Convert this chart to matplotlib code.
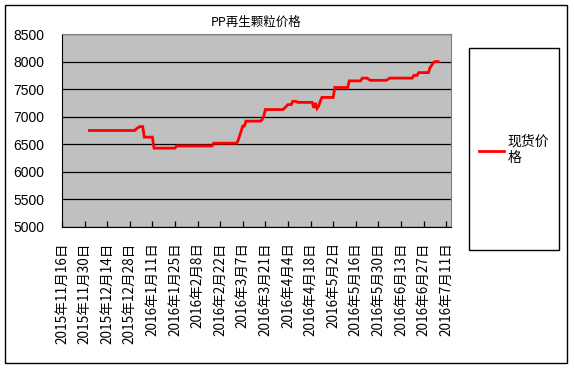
import pandas as pd
import matplotlib
matplotlib.use('Agg')
import matplotlib.pyplot as plt
from matplotlib.patches import Rectangle

plt.rcParams['font.family'] = ['Noto Sans CJK SC', 'DejaVu Sans']

# spot price of recycled PP pellets
dates = ['2015-12-03', '2015-12-31', '2016-01-01', '2016-01-02', '2016-01-03', '2016-01-05',
         '2016-01-06', '2016-01-11', '2016-01-12', '2016-01-25', '2016-01-26', '2016-02-17',
         '2016-02-18', '2016-03-03', '2016-03-04', '2016-03-05', '2016-03-06', '2016-03-07',
         '2016-03-08', '2016-03-09', '2016-03-18', '2016-03-19', '2016-03-20', '2016-03-21',
         '2016-04-01', '2016-04-02', '2016-04-03', '2016-04-04', '2016-04-06', '2016-04-07',
         '2016-04-09', '2016-04-10', '2016-04-19', '2016-04-20', '2016-04-21', '2016-04-22',
         '2016-04-23', '2016-04-24', '2016-04-25', '2016-05-02', '2016-05-03', '2016-05-11',
         '2016-05-12', '2016-05-19', '2016-05-20', '2016-05-23', '2016-05-25', '2016-06-04',
         '2016-06-06', '2016-06-20', '2016-06-21', '2016-06-23', '2016-06-24', '2016-06-30',
         '2016-07-01', '2016-07-02', '2016-07-03', '2016-07-04', '2016-07-06']
prices = [6750, 6750, 6780, 6800, 6820, 6820,
          6630, 6630, 6430, 6430, 6470, 6470,
          6520, 6520, 6560, 6650, 6740, 6830,
          6830, 6920, 6920, 6950, 7010, 7130,
          7130, 7160, 7190, 7220, 7220, 7280,
          7280, 7260, 7260, 7160, 7250, 7150,
          7190, 7280, 7350, 7350, 7530, 7530,
          7650, 7650, 7700, 7700, 7660, 7660,
          7700, 7700, 7750, 7750, 7800, 7800,
          7890, 7930, 7980, 8000, 8000]
tick_dates = pd.date_range('2015-11-16', '2016-07-11', freq='14D')
tick_labels = [f'{d.year}年{d.month}月{d.day}日' for d in tick_dates]
y_ticks = [5000, 5500, 6000, 6500, 7000, 7500, 8000, 8500]

fig = plt.figure(figsize=(5.74, 3.69), dpi=100)
ax = fig.add_axes([62/574, 1 - 227/369, (451-62)/574, (227-34)/369])
ax.set_facecolor('#C0C0C0')

line, = ax.plot(pd.to_datetime(dates), prices, color='#FF0000', lw=2.0,
                solid_joinstyle='miter', label='现货价\n格')

ax.set_ylim(5000, 8500)
ax.set_yticks(y_ticks)
ax.set_yticklabels([str(v) for v in y_ticks], fontfamily='Liberation Sans', fontsize=10)
ax.yaxis.grid(True, color='black', lw=0.9)
ax.set_axisbelow(True)
ax.tick_params(axis='y', length=0, pad=13)

ax.set_xlim(pd.Timestamp('2015-11-16'), pd.Timestamp('2016-07-14'))
ax.set_xticks(tick_dates)
ax.set_xticklabels(tick_labels, rotation=90, fontsize=9.8)
ax.tick_params(axis='x', direction='in', length=4, width=0.9, pad=11)

for s in ['top', 'right']:
    ax.spines[s].set_color('#808080')
for s in ['left', 'bottom']:
    ax.spines[s].set_color('black')

fig.text(256/574, 1 - 22/369, 'PP再生颗粒价格', ha='center', va='center', fontsize=9)

# outer chart border and legend box
fig.add_artist(Rectangle((5/574, 1 - 363/369), 562/574, 358/369, transform=fig.transFigure,
                         fill=False, ec='black', lw=1))
fig.add_artist(Rectangle((469/574, 1 - 250/369), 90/574, 202/369, transform=fig.transFigure,
                         fill=False, ec='black', lw=1))
fig.legend(handles=[line], loc='center left', bbox_to_anchor=(469/574, 1 - 150/369),
           frameon=False, fontsize=10, handlelength=1.8, handletextpad=0.3,
           borderpad=0.2)

fig.savefig('out.png', dpi=100)
